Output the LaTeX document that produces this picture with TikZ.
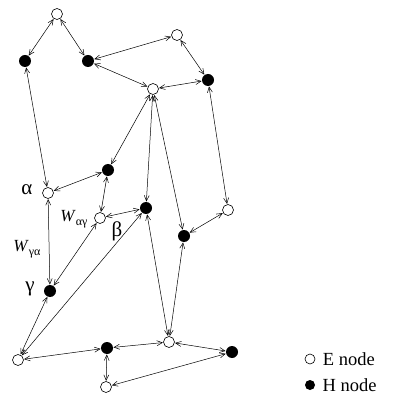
\documentclass[tikz,border=0pt]{standalone}
\usepackage{fontspec}
\setmainfont{Liberation Serif}
\usetikzlibrary{positioning,arrows.meta}

\newcommand{\wsub}[2]{\textit{W}\raisebox{-0.45ex}{\fontsize{12}{13}\selectfont #1#2}}

\begin{document}
\begin{tikzpicture}[
  x=1pt, y=-1pt,
  enode/.style={circle, draw=black, fill=white, line width=0.6pt, minimum size=11pt, inner sep=0pt},
  hnode/.style={circle, fill=black, minimum size=12pt, inner sep=0pt},
  link/.style={{Straight Barb[length=5.5pt,width=5pt]}-{Straight Barb[length=5.5pt,width=5pt]}, line width=0.5pt, shorten <=0.3pt, shorten >=0.3pt},
  every node/.style={font=\fontsize{18.5}{21}\selectfont}
]
  \useasboundingbox (0,0) rectangle (401,395);

  % upper part
  \node[enode] (e1) at (57,14) {};
  \node[hnode] (h1) at (25,61) {};
  \node[hnode] (h2) at (88,61) {};
  \node[enode] (e2) at (177,35) {};
  \node[enode] (e3) at (153,89) {};
  \node[hnode] (h3) at (208,80) {};

  % middle part
  \node[hnode] (h4) at (108,170) {};
  \node[enode] (alpha) at (48,193) {};
  \node[enode] (beta) at (100,218) {};
  \node[hnode] (h5) at (146,208) {};
  \node[enode] (e6) at (228,210) {};
  \node[hnode] (h6) at (184,236) {};

  % lower part
  \node[hnode] (gamma) at (50,291) {};
  \node[enode] (e7) at (18,360) {};
  \node[hnode] (h7) at (107,348) {};
  \node[enode] (e8) at (169,342) {};
  \node[hnode] (h8) at (232,352) {};
  \node[enode] (e9) at (106,387) {};

  % labels
  \node[font=\fontsize{21}{24}\selectfont] (lalpha) at (27,190) {α};
  \node[font=\fontsize{21}{24}\selectfont] (lbeta) at (117,231) {β};
  \node[font=\fontsize{21}{24}\selectfont] (lgamma) at (30,289) {γ};
  \node[font=\fontsize{17}{20}\selectfont] (wag) at (74,219) {\wsub{α}{γ}};
  \node[font=\fontsize{17}{20}\selectfont] (wga) at (27,249) {\wsub{γ}{α}};

  % links
  \foreach \a/\b in {e1/h1, e1/h2, h2/e2, h2/e3, e2/h3, e3/h3, h1/alpha,
                     e3/h4, e3/h5, e3/h6, h3/e6, h4/alpha, h4/beta, beta/h5,
                     e6/h6, alpha/gamma, gamma/beta, e7/h5, gamma/e7, e7/h7,
                     h7/e8, h7/e9, e8/h8, h8/e9, h5/e8, h6/e8}
    \draw[link] (\a) -- (\b);

  % legend
  \node[enode, minimum size=10pt] (keye) at (310,359) {};
  \node[right=4pt of keye] (texte) {E node};
  \node[hnode, minimum size=10pt] (keyh) at (310,385) {};
  \node[right=4pt of keyh] (texth) {H node};
\end{tikzpicture}
\end{document}
